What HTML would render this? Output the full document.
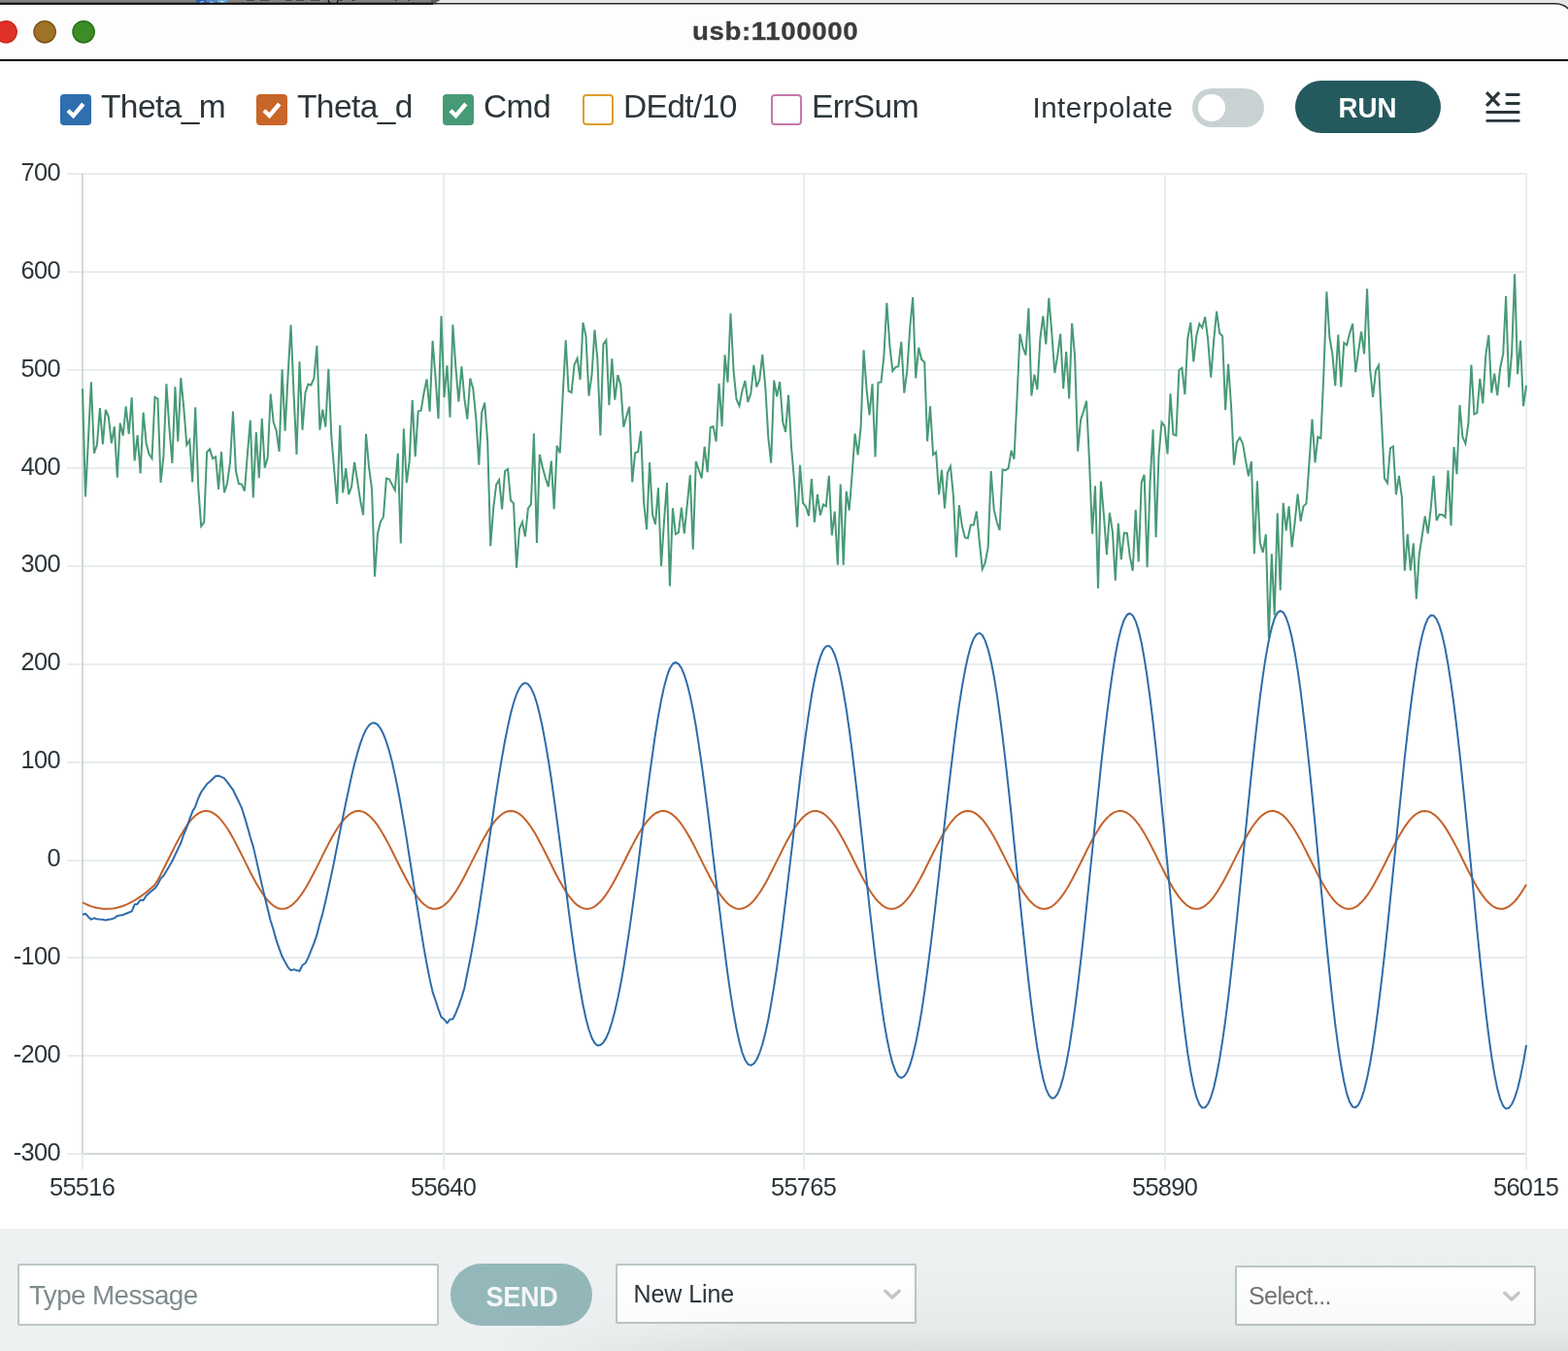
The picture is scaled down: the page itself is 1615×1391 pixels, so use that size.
<!DOCTYPE html>
<html lang="en"><head><meta charset="utf-8"><title>usb:1100000</title>
<style>
*{box-sizing:border-box;margin:0;padding:0}
html,body{width:1615px;height:1391px;overflow:hidden;background:#fff}
body{position:relative;font-family:"Liberation Sans","DejaVu Sans",sans-serif;color:#2c353a}
.abs{position:absolute}
#topstrip{left:0;top:0;width:1615px;height:6px;background:#e4e4e4}
#topdark{left:0;top:0;width:447px;height:5px;background:#818181}
#titlebar{left:0;top:0;width:1615px;height:63px}
#title{left:0;top:14.6px;width:1598px;text-align:center;font-weight:bold;font-size:26px;line-height:34px;color:#3b3b3b}
#title span{display:inline-block;transform:scaleX(1.063);letter-spacing:0.6px;-webkit-text-stroke:0.3px #3b3b3b}
.tl{width:24px;height:24px;border-radius:50%;top:21px;border:1.5px solid}
#blackline{left:0;top:61px;width:1615px;height:2px;background:#000}
.cb{top:97px;width:32px;height:32px;border-radius:4px}
.cb svg{position:absolute;left:0;top:0}
.lbl{top:89.7px;font-size:33.5px;line-height:40px;white-space:nowrap;letter-spacing:-0.6px}
#interp{left:1063.5px;top:90.8px;font-size:29.5px;line-height:40px;white-space:nowrap;letter-spacing:0.5px}
#toggle{left:1228px;top:91px;width:74px;height:40px;border-radius:20px;background:#c9d2d2}
#knob{left:1234px;top:97px;width:28px;height:28px;border-radius:50%;background:#fff}
#run{left:1334px;top:83px;width:150px;height:54px;border-radius:27px;background:#245a5e;color:#fff;font-weight:bold;font-size:29px;line-height:56px;text-align:center}
#run span{display:inline-block;transform:scaleX(0.955);letter-spacing:0.1px}
.yl{position:absolute;left:0;width:62px;text-align:right;font-size:25.4px;line-height:30px;white-space:nowrap;letter-spacing:-0.65px}
.xl{position:absolute;top:1206.6px;width:100px;text-align:center;font-size:25.4px;line-height:30px;white-space:nowrap;letter-spacing:-0.65px}
#bottom{left:0;top:1265px;width:1615px;height:126px;background:#edf1f2}
#shade{left:0;top:1265px;width:1615px;height:126px;pointer-events:none;background:linear-gradient(to bottom,rgba(20,30,30,0) 0%,rgba(20,30,30,0.003) 30%,rgba(20,30,30,0.011) 55%,rgba(20,30,30,0.028) 78%,rgba(20,30,30,0.05) 90%,rgba(20,30,30,0.08) 100%);-webkit-mask-image:linear-gradient(to right,rgba(0,0,0,0) 31%,rgba(0,0,0,1) 48%);mask-image:linear-gradient(to right,rgba(0,0,0,0) 31%,rgba(0,0,0,1) 48%)}
#msg{left:18px;top:1301px;width:434px;height:64px;background:#fff;border:2px solid #bcc6c6;border-radius:2px;font-size:27.8px;line-height:62px;padding-left:10px;color:#7f8c8d;white-space:nowrap;letter-spacing:-0.6px}
#send{left:464px;top:1301px;width:146px;height:64px;border-radius:32px;background:#94b8ba;color:#f3f7f7;font-weight:bold;font-size:29px;line-height:68.3px;text-align:center}
#send span{display:inline-block;transform:scaleX(0.935);letter-spacing:-0.4px}
.sel{width:310px;height:62px;background:#fff;border:2px solid #bcc6c6;border-radius:2px;white-space:nowrap}
#sel1{left:634px;top:1301px;font-size:25px;line-height:58.5px;padding-left:16.6px;color:#2c353a;letter-spacing:-0.1px}
#sel2{left:1272px;top:1303px;font-size:25px;line-height:59px;padding-left:12px;color:#757575;letter-spacing:-0.6px}
.chev{position:absolute}
</style></head><body>
<div class="abs" id="titlebar">
<svg class="abs" style="left:0;top:0" width="1615" height="63" viewBox="0 0 1615 63">
<rect x="0" y="0" width="1615" height="63" fill="#e6e6e6"/>
<rect x="0" y="0" width="445" height="5" fill="#818181"/>
<path d="M444 0 L453.5 0 L446.5 4.5 L444 4.5 Z" fill="#5c5c5c"/>
<rect x="202" y="0" width="10.5" height="4.6" fill="#2c62b2"/>
<rect x="213" y="0" width="10" height="4.6" fill="#4d8ccb"/>
<rect x="224" y="0" width="10" height="4.6" fill="#6fabd9"/>
<path d="M205 3.4 Q207.5 1 210 2 M216 3 Q218 1 220 3 M227 1.5 Q230 1 231 3.4" fill="none" stroke="#eef3fa" stroke-width="1"/>
<path d="M254 0 h8 M268 0 h9 M294 0 h7 M305 0 h8 M320 0 h9 M349 0 h4 M362 0 h4 M407 0 h2 M420 0 h2" stroke="#2a2a2a" stroke-width="1.6" fill="none" opacity="0.8"/>
<path d="M338 0 Q339 4.6 345 4.2 Q348 4 348 0" fill="none" stroke="#111" stroke-width="1.2"/>
<path d="M0 3.8 L1601 3.8 Q1610.5 3.8 1616 9.7 L1616 63 L0 63 Z" fill="#fdfdfd"/>
<path d="M0 3.8 L1601 3.8 Q1610.5 3.8 1616 9.7" fill="none" stroke="#2a2a2a" stroke-width="1.6"/>
<path d="M0 3.7 L446 3.7" fill="none" stroke="#0c0c0c" stroke-width="1.9"/>
</svg>
<svg class="abs" style="left:0;top:18px" width="110" height="30" viewBox="0 18 110 30">
<circle cx="6.1" cy="32.8" r="11.1" fill="#e13126" stroke="#c9281e" stroke-width="1.5"/>
<circle cx="46.1" cy="32.8" r="11.1" fill="#9e7327" stroke="#805318" stroke-width="1.5"/>
<circle cx="86.1" cy="32.8" r="11.1" fill="#3c8c27" stroke="#2b701a" stroke-width="1.5"/>
</svg>
<div class="abs" id="title"><span>usb:1100000</span></div>
<div class="abs" id="blackline"></div>
</div>

<div class="abs cb" style="left:62px;background:#2f6fae"><svg width="32" height="32" viewBox="0 0 32 32"><path d="M8 16.8 L13.5 22.1 L23.8 10" fill="none" stroke="#fff" stroke-width="4.3"/></svg></div>
<div class="abs lbl" style="left:104px">Theta_m</div>
<div class="abs cb" style="left:264px;background:#c86528"><svg width="32" height="32" viewBox="0 0 32 32"><path d="M8 16.8 L13.5 22.1 L23.8 10" fill="none" stroke="#fff" stroke-width="4.3"/></svg></div>
<div class="abs lbl" style="left:306px">Theta_d</div>
<div class="abs cb" style="left:456px;background:#479a76"><svg width="32" height="32" viewBox="0 0 32 32"><path d="M8 16.8 L13.5 22.1 L23.8 10" fill="none" stroke="#fff" stroke-width="4.3"/></svg></div>
<div class="abs lbl" style="left:498px">Cmd</div>
<div class="abs cb" style="left:600px;border:2px solid #dd9e2c;background:#fff"></div>
<div class="abs lbl" style="left:642px">DEdt/10</div>
<div class="abs cb" style="left:794px;border:2px solid #c478ab;background:#fff"></div>
<div class="abs lbl" style="left:836px">ErrSum</div>
<div class="abs" id="interp">Interpolate</div>
<div class="abs" id="toggle"></div><div class="abs" id="knob"></div>
<div class="abs" id="run"><span>RUN</span></div>
<svg class="abs" style="left:1526px;top:90px" width="44" height="40" viewBox="0 0 44 40">
<g fill="none" stroke="#2c353a" stroke-linecap="round">
<path stroke-width="3.2" stroke-linecap="square" d="M6.2 6.3 L17 17.7 M17 6.3 L6.2 17.7"/>
<path stroke-width="2.8" d="M25.8 7.5 H38.3 M25.8 16.5 H38.3 M5.7 25.5 H38.3 M5.7 34.4 H38.3"/>
</g></svg>

<svg class="abs" style="left:0;top:0" width="1615" height="1265" viewBox="0 0 1615 1265">
<rect x="69" y="1187.0" width="16" height="2" fill="#e7eded"/>
<rect x="85" y="1187.0" width="1488" height="2" fill="#d3d9da"/>
<rect x="69" y="1086.0" width="1504" height="2" fill="#e7eded"/>
<rect x="69" y="985.0" width="1504" height="2" fill="#e7eded"/>
<rect x="69" y="885.0" width="1504" height="2" fill="#e7eded"/>
<rect x="69" y="784.0" width="1504" height="2" fill="#e7eded"/>
<rect x="69" y="683.0" width="1504" height="2" fill="#e7eded"/>
<rect x="69" y="582.0" width="1504" height="2" fill="#e7eded"/>
<rect x="69" y="481.0" width="1504" height="2" fill="#e7eded"/>
<rect x="69" y="380.0" width="1504" height="2" fill="#e7eded"/>
<rect x="69" y="279.0" width="1504" height="2" fill="#e7eded"/>
<rect x="69" y="178.0" width="1504" height="2" fill="#e7eded"/>
<rect x="84.0" y="178.0" width="2" height="1010.0" fill="#d3d9da"/>
<rect x="84.0" y="1188.0" width="2" height="16" fill="#e7eded"/>
<rect x="456.0" y="178.0" width="2" height="1026.0" fill="#e7eded"/>
<rect x="827.0" y="178.0" width="2" height="1026.0" fill="#e7eded"/>
<rect x="1199.0" y="178.0" width="2" height="1026.0" fill="#e7eded"/>
<rect x="1571.0" y="178.0" width="2" height="1026.0" fill="#e7eded"/>
<polyline fill="none" stroke="#479a76" stroke-width="2" stroke-linejoin="miter" points="85.0,400.2 88.0,511.5 91.0,451.1 93.9,393.3 96.9,466.7 99.9,458.1 102.9,420.1 105.9,457.5 108.8,421.8 111.8,429.1 114.8,456.3 117.8,439.1 120.8,491.7 123.7,435.6 126.7,448.6 129.7,418.4 132.7,446.8 135.7,409.4 138.6,474.4 141.6,448.2 144.6,487.4 147.6,424.7 150.6,456.3 153.5,467.5 156.5,471.9 159.5,408.9 162.5,410.6 165.5,496.9 168.4,470.1 171.4,395.4 174.4,440.8 177.4,477.0 180.4,398.2 183.3,454.6 186.3,389.0 189.3,420.1 192.3,458.1 195.3,453.2 198.2,496.5 201.2,419.2 204.2,501.2 207.2,541.7 210.2,537.8 213.1,465.5 216.1,462.4 219.1,472.2 222.1,470.5 225.1,503.8 228.0,465.0 231.0,507.2 234.0,497.7 237.0,476.2 240.0,423.5 242.9,484.8 245.9,498.1 248.9,498.6 251.9,505.5 254.9,467.5 257.8,432.7 260.8,512.4 263.8,445.1 266.8,492.2 269.8,430.7 272.7,481.7 275.7,471.4 278.7,405.7 281.7,434.7 284.7,443.7 287.6,464.9 290.6,380.4 293.6,443.7 296.6,386.4 299.6,334.5 302.5,404.5 305.5,467.9 308.5,372.3 311.5,442.7 314.5,404.5 317.4,395.5 320.4,396.5 323.4,389.4 326.4,355.8 329.4,442.7 332.3,421.6 335.3,439.7 338.3,379.8 341.3,448.8 344.3,485.0 347.2,518.8 350.2,437.7 353.2,507.5 356.2,482.0 359.2,509.1 362.1,501.1 365.1,475.9 368.1,495.1 371.1,515.2 374.1,530.3 377.0,446.8 380.0,481.0 383.0,503.1 386.0,593.6 389.0,549.4 391.9,537.3 394.9,532.3 397.9,492.6 400.9,493.4 403.9,499.1 406.8,504.7 409.8,466.9 412.8,559.4 415.8,441.3 418.8,497.1 421.7,474.9 424.7,412.0 427.7,470.3 430.7,423.6 433.7,422.6 436.6,404.5 439.6,390.4 442.6,423.6 445.6,350.8 448.6,389.4 451.5,431.1 454.5,325.4 457.5,409.1 460.5,376.4 463.5,429.7 466.4,334.3 469.4,378.4 472.4,413.6 475.4,377.4 478.4,410.6 481.3,431.7 484.3,389.5 487.3,400.5 490.3,430.7 493.3,478.6 496.2,424.7 499.2,414.6 502.2,454.9 505.2,562.1 508.2,523.3 511.1,499.1 514.1,494.1 517.1,524.3 520.1,485.1 523.1,483.0 526.0,515.2 529.0,518.2 532.0,584.6 535.0,544.4 538.0,537.4 540.9,552.5 543.9,523.3 546.9,519.3 549.9,446.4 552.9,558.9 555.8,467.9 558.8,481.0 561.8,492.1 564.8,501.1 567.8,474.6 570.7,524.3 573.7,458.9 576.7,466.5 579.7,406.6 582.7,350.2 585.6,402.6 588.6,404.2 591.6,375.4 594.6,368.8 597.6,390.9 600.5,332.1 603.5,346.2 606.5,407.6 609.5,386.5 612.5,339.6 615.4,370.4 618.4,448.4 621.4,354.3 624.4,350.2 627.4,417.2 630.3,369.4 633.3,411.6 636.3,386.1 639.3,396.5 642.3,439.8 645.2,428.7 648.2,418.7 651.2,496.4 654.2,466.2 657.2,465.1 660.1,443.8 663.1,517.1 666.1,545.2 669.1,476.1 672.1,530.1 675.0,539.8 678.0,502.4 681.0,582.9 684.0,536.5 687.0,497.1 689.9,603.4 692.9,523.2 695.9,549.9 698.9,548.4 701.9,522.5 704.8,549.5 707.8,519.3 710.8,489.1 713.8,565.7 716.8,475.0 719.7,483.7 722.7,492.3 725.7,459.9 728.7,486.3 731.7,439.9 734.6,439.0 737.6,454.6 740.6,394.8 743.6,439.0 746.6,365.4 749.5,393.7 752.5,322.5 755.5,381.2 758.5,411.0 761.5,417.9 764.4,402.8 767.4,392.0 770.4,414.0 773.4,404.9 776.4,375.8 779.3,398.5 782.3,390.9 785.3,365.0 788.3,398.5 791.3,450.2 794.2,476.6 797.2,391.6 800.2,408.2 803.2,393.1 806.2,434.1 809.1,444.8 812.1,406.7 815.1,461.0 818.1,495.5 821.1,542.6 824.0,478.9 827.0,517.8 830.0,521.4 833.0,531.1 835.9,493.0 838.9,537.6 841.9,508.9 844.9,530.5 847.9,519.5 850.8,521.1 853.8,489.9 856.8,551.3 859.8,526.5 862.8,581.6 865.7,498.5 868.7,581.6 871.7,506.0 874.7,525.5 877.7,487.7 880.6,446.3 883.6,468.3 886.6,440.2 889.6,360.4 892.6,401.4 895.5,427.3 898.5,395.4 901.5,470.4 904.5,393.9 907.5,393.4 910.4,366.9 913.4,311.9 916.4,356.1 919.4,382.0 922.4,378.1 925.3,377.2 928.3,351.8 931.3,404.6 934.3,382.0 937.3,336.7 940.2,306.0 943.2,389.5 946.2,357.8 949.2,370.1 952.2,372.7 955.1,454.3 958.1,418.2 961.1,468.3 964.1,465.5 967.1,509.3 970.0,483.8 973.0,523.3 976.0,486.6 979.0,480.2 982.0,511.4 984.9,573.6 987.9,520.1 990.9,541.6 993.9,553.5 996.9,554.2 999.8,540.6 1002.8,540.6 1005.8,526.5 1008.8,557.8 1011.8,585.9 1014.7,579.4 1017.7,563.2 1020.7,485.1 1023.7,524.4 1026.7,537.3 1029.6,546.0 1032.6,483.7 1035.6,484.3 1038.6,482.1 1041.6,463.9 1044.5,472.6 1047.5,410.5 1050.5,343.7 1053.5,357.5 1056.5,365.6 1059.4,317.3 1062.4,407.5 1065.4,385.6 1068.4,401.3 1071.4,348.3 1074.3,325.3 1077.3,354.5 1080.3,306.9 1083.3,342.6 1086.3,384.0 1089.2,366.7 1092.2,343.7 1095.2,400.1 1098.2,362.1 1101.2,410.5 1104.1,332.9 1107.1,366.7 1110.1,464.6 1113.1,432.3 1116.1,423.1 1119.0,412.8 1122.0,474.9 1125.0,549.7 1128.0,500.2 1131.0,605.6 1133.9,495.6 1136.9,530.1 1139.9,571.1 1142.9,527.8 1145.9,547.4 1148.8,597.6 1151.8,538.9 1154.8,576.2 1157.8,548.6 1160.8,549.0 1163.7,572.7 1166.7,587.7 1169.7,524.9 1172.7,578.5 1175.7,496.8 1178.6,488.7 1181.6,584.2 1184.6,495.6 1187.6,442.2 1190.6,553.2 1193.5,469.2 1196.5,434.6 1199.5,438.6 1202.5,467.5 1205.5,405.2 1208.4,447.3 1211.4,448.4 1214.4,381.0 1217.4,378.9 1220.4,406.2 1223.3,348.4 1226.3,332.1 1229.3,372.5 1232.3,345.9 1235.3,333.3 1238.2,337.5 1241.2,326.3 1244.2,350.1 1247.2,388.6 1250.2,350.1 1253.1,320.7 1256.1,343.1 1259.1,345.9 1262.1,422.2 1265.1,374.8 1268.0,417.4 1271.0,478.6 1274.0,455.3 1277.0,450.5 1280.0,456.7 1282.9,473.5 1285.9,490.4 1288.9,475.0 1291.9,570.3 1294.9,495.4 1297.8,559.1 1300.8,568.9 1303.8,550.1 1306.8,656.7 1309.8,570.3 1312.7,633.4 1315.7,528.2 1318.7,607.6 1321.7,517.9 1324.7,546.5 1327.6,521.2 1330.6,563.3 1333.6,538.1 1336.6,508.6 1339.6,536.7 1342.5,521.2 1345.5,518.4 1348.5,476.4 1351.5,431.5 1354.5,476.4 1357.4,449.7 1360.4,451.1 1363.4,383.8 1366.4,300.2 1369.4,347.3 1372.3,364.2 1375.3,397.3 1378.3,344.5 1381.3,398.4 1384.3,352.9 1387.2,355.2 1390.2,343.1 1393.2,333.3 1396.2,383.2 1399.2,361.3 1402.1,341.4 1405.1,364.4 1408.1,297.3 1411.1,380.5 1414.1,408.8 1417.0,381.8 1420.0,376.1 1423.0,433.0 1426.0,492.5 1429.0,497.2 1431.9,461.5 1434.9,459.7 1437.9,509.3 1440.9,489.9 1443.9,511.9 1446.8,587.7 1449.8,549.9 1452.8,587.5 1455.8,559.3 1458.8,616.7 1461.7,571.4 1464.7,552.0 1467.7,531.3 1470.7,549.4 1473.7,523.6 1476.6,489.9 1479.6,536.0 1482.6,529.5 1485.6,530.0 1488.6,532.6 1491.5,484.2 1494.5,541.2 1497.5,460.2 1500.5,488.1 1503.5,417.0 1506.4,449.8 1509.4,456.8 1512.4,435.6 1515.4,375.6 1518.4,426.5 1521.3,425.2 1524.3,389.8 1527.3,415.4 1530.3,365.7 1533.3,345.0 1536.2,404.5 1539.2,384.6 1542.2,407.1 1545.2,378.7 1548.2,364.4 1551.1,304.9 1554.1,398.6 1557.1,363.1 1560.1,282.4 1563.1,385.1 1566.0,350.7 1569.0,418.3 1572.0,396.8"/>
<polyline fill="none" stroke="#c4622a" stroke-width="2" stroke-linejoin="round" points="85.0,929.2 88.0,930.7 91.0,932.0 93.9,933.1 96.9,934.0 99.9,934.8 102.9,935.3 105.9,935.7 108.8,935.8 111.8,935.8 114.8,935.6 117.8,935.2 120.8,934.5 123.7,933.7 126.7,932.7 129.7,931.6 132.7,930.2 135.7,928.7 138.6,927.0 141.6,925.1 144.6,923.1 147.6,921.0 150.6,918.7 153.5,916.2 156.5,913.7 159.5,911.1 162.5,906.2 165.5,900.5 168.4,894.7 171.4,888.7 174.4,882.7 177.4,876.7 180.4,870.9 183.3,865.2 186.3,859.9 189.3,854.9 192.3,850.3 195.3,846.2 198.2,842.7 201.2,839.8 204.2,837.6 207.2,836.0 210.2,835.1 213.1,835.0 216.1,835.5 219.1,836.8 222.1,838.8 225.1,841.4 228.0,844.6 231.0,848.5 234.0,852.8 237.0,857.6 240.0,862.9 242.9,868.4 245.9,874.2 248.9,880.1 251.9,886.1 254.9,892.1 257.8,898.0 260.8,903.7 263.8,909.2 266.8,914.3 269.8,919.0 272.7,923.3 275.7,927.0 278.7,930.1 281.7,932.6 284.7,934.4 287.6,935.5 290.6,935.8 293.6,935.5 296.6,934.5 299.6,932.7 302.5,930.3 305.5,927.3 308.5,923.6 311.5,919.4 314.5,914.8 317.4,909.7 320.4,904.2 323.4,898.5 326.4,892.6 329.4,886.6 332.3,880.6 335.3,874.7 338.3,868.9 341.3,863.3 344.3,858.1 347.2,853.2 350.2,848.8 353.2,845.0 356.2,841.7 359.2,839.0 362.1,837.0 365.1,835.6 368.1,835.0 371.1,835.1 374.1,835.9 377.0,837.4 380.0,839.6 383.0,842.5 386.0,845.9 389.0,849.9 391.9,854.5 394.9,859.4 397.9,864.8 400.9,870.4 403.9,876.2 406.8,882.2 409.8,888.2 412.8,894.2 415.8,900.0 418.8,905.7 421.7,911.0 424.7,916.0 427.7,920.6 430.7,924.6 433.7,928.1 436.6,931.0 439.6,933.3 442.6,934.8 445.6,935.7 448.6,935.8 451.5,935.2 454.5,934.0 457.5,932.0 460.5,929.3 463.5,926.1 466.4,922.2 469.4,917.9 472.4,913.0 475.4,907.8 478.4,902.3 481.3,896.5 484.3,890.6 487.3,884.6 490.3,878.6 493.3,872.7 496.2,866.9 499.2,861.5 502.2,856.4 505.2,851.7 508.2,847.4 511.1,843.7 514.1,840.7 517.1,838.2 520.1,836.4 523.1,835.3 526.0,835.0 529.0,835.3 532.0,836.3 535.0,838.1 538.0,840.5 540.9,843.6 543.9,847.3 546.9,851.5 549.9,856.1 552.9,861.2 555.8,866.7 558.8,872.4 561.8,878.3 564.8,884.3 567.8,890.3 570.7,896.2 573.7,902.0 576.7,907.6 579.7,912.8 582.7,917.7 585.6,922.1 588.6,925.9 591.6,929.2 594.6,931.9 597.6,933.9 600.5,935.2 603.5,935.8 606.5,935.7 609.5,934.9 612.5,933.3 615.4,931.1 618.4,928.3 621.4,924.8 624.4,920.8 627.4,916.2 630.3,911.3 633.3,905.9 636.3,900.3 639.3,894.4 642.3,888.5 645.2,882.5 648.2,876.5 651.2,870.6 654.2,865.0 657.2,859.6 660.1,854.7 663.1,850.1 666.1,846.1 669.1,842.6 672.1,839.7 675.0,837.5 678.0,836.0 681.0,835.1 684.0,835.0 687.0,835.6 689.9,836.9 692.9,838.9 695.9,841.5 698.9,844.8 701.9,848.7 704.8,853.0 707.8,857.9 710.8,863.1 713.8,868.6 716.8,874.4 719.7,880.4 722.7,886.4 725.7,892.4 728.7,898.3 731.7,904.0 734.6,909.4 737.6,914.6 740.6,919.2 743.6,923.5 746.6,927.1 749.5,930.2 752.5,932.7 755.5,934.4 758.5,935.5 761.5,935.8 764.4,935.5 767.4,934.4 770.4,932.7 773.4,930.2 776.4,927.1 779.3,923.5 782.3,919.2 785.3,914.6 788.3,909.4 791.3,904.0 794.2,898.3 797.2,892.4 800.2,886.4 803.2,880.4 806.2,874.4 809.1,868.6 812.1,863.1 815.1,857.9 818.1,853.0 821.1,848.7 824.0,844.8 827.0,841.5 830.0,838.9 833.0,836.9 835.9,835.6 838.9,835.0 841.9,835.1 844.9,836.0 847.9,837.5 850.8,839.7 853.8,842.6 856.8,846.1 859.8,850.1 862.8,854.7 865.7,859.7 868.7,865.0 871.7,870.6 874.7,876.5 877.7,882.5 880.6,888.5 883.6,894.5 886.6,900.3 889.6,905.9 892.6,911.3 895.5,916.2 898.5,920.8 901.5,924.8 904.5,928.3 907.5,931.1 910.4,933.3 913.4,934.9 916.4,935.7 919.4,935.8 922.4,935.2 925.3,933.9 928.3,931.9 931.3,929.2 934.3,925.9 937.3,922.1 940.2,917.7 943.2,912.8 946.2,907.6 949.2,902.0 952.2,896.2 955.1,890.3 958.1,884.3 961.1,878.3 964.1,872.4 967.1,866.7 970.0,861.2 973.0,856.1 976.0,851.5 979.0,847.2 982.0,843.6 984.9,840.5 987.9,838.1 990.9,836.3 993.9,835.3 996.9,835.0 999.8,835.3 1002.8,836.4 1005.8,838.2 1008.8,840.7 1011.8,843.7 1014.7,847.4 1017.7,851.7 1020.7,856.4 1023.7,861.5 1026.7,866.9 1029.6,872.7 1032.6,878.6 1035.6,884.6 1038.6,890.6 1041.6,896.5 1044.5,902.3 1047.5,907.8 1050.5,913.0 1053.5,917.9 1056.5,922.2 1059.4,926.1 1062.4,929.3 1065.4,932.0 1068.4,934.0 1071.4,935.2 1074.3,935.8 1077.3,935.7 1080.3,934.8 1083.3,933.3 1086.3,931.0 1089.2,928.1 1092.2,924.6 1095.2,920.6 1098.2,916.0 1101.2,911.0 1104.1,905.7 1107.1,900.0 1110.1,894.2 1113.1,888.2 1116.1,882.2 1119.0,876.2 1122.0,870.4 1125.0,864.7 1128.0,859.4 1131.0,854.5 1133.9,849.9 1136.9,845.9 1139.9,842.5 1142.9,839.6 1145.9,837.4 1148.8,835.9 1151.8,835.1 1154.8,835.0 1157.8,835.6 1160.8,837.0 1163.7,839.0 1166.7,841.7 1169.7,845.0 1172.7,848.8 1175.7,853.2 1178.6,858.1 1181.6,863.3 1184.6,868.9 1187.6,874.7 1190.6,880.6 1193.5,886.7 1196.5,892.6 1199.5,898.5 1202.5,904.2 1205.5,909.7 1208.4,914.8 1211.4,919.4 1214.4,923.6 1217.4,927.3 1220.4,930.3 1223.3,932.7 1226.3,934.5 1229.3,935.5 1232.3,935.8 1235.3,935.5 1238.2,934.4 1241.2,932.6 1244.2,930.1 1247.2,927.0 1250.2,923.3 1253.1,919.0 1256.1,914.3 1259.1,909.2 1262.1,903.7 1265.1,898.0 1268.0,892.1 1271.0,886.1 1274.0,880.1 1277.0,874.2 1280.0,868.4 1282.9,862.9 1285.9,857.6 1288.9,852.8 1291.9,848.5 1294.9,844.6 1297.8,841.4 1300.8,838.8 1303.8,836.8 1306.8,835.5 1309.8,835.0 1312.7,835.1 1315.7,836.0 1318.7,837.6 1321.7,839.8 1324.7,842.7 1327.6,846.3 1330.6,850.3 1333.6,854.9 1336.6,859.9 1339.6,865.2 1342.5,870.9 1345.5,876.8 1348.5,882.7 1351.5,888.7 1354.5,894.7 1357.4,900.6 1360.4,906.2 1363.4,911.5 1366.4,916.5 1369.4,921.0 1372.3,925.0 1375.3,928.4 1378.3,931.2 1381.3,933.4 1384.3,934.9 1387.2,935.7 1390.2,935.8 1393.2,935.2 1396.2,933.8 1399.2,931.8 1402.1,929.1 1405.1,925.8 1408.1,921.9 1411.1,917.5 1414.1,912.6 1417.0,907.3 1420.0,901.8 1423.0,896.0 1426.0,890.0 1429.0,884.0 1431.9,878.0 1434.9,872.1 1437.9,866.4 1440.9,861.0 1443.9,855.9 1446.8,851.3 1449.8,847.1 1452.8,843.4 1455.8,840.4 1458.8,838.0 1461.7,836.3 1464.7,835.3 1467.7,835.0 1470.7,835.4 1473.7,836.5 1476.6,838.3 1479.6,840.8 1482.6,843.9 1485.6,847.6 1488.6,851.9 1491.5,856.6 1494.5,861.7 1497.5,867.2 1500.5,872.9 1503.5,878.8 1506.4,884.8 1509.4,890.8 1512.4,896.8 1515.4,902.5 1518.4,908.1 1521.3,913.3 1524.3,918.1 1527.3,922.4 1530.3,926.2 1533.3,929.5 1536.2,932.1 1539.2,934.0 1542.2,935.3 1545.2,935.8 1548.2,935.7 1551.1,934.8 1554.1,933.2 1557.1,930.9 1560.1,928.0 1563.1,924.5 1566.0,920.4 1569.0,915.8 1572.0,910.8"/>
<polyline fill="none" stroke="#2d6cab" stroke-width="2" stroke-linejoin="round" points="85.0,941.7 88.0,940.8 91.0,944.0 93.9,946.7 96.9,945.3 99.9,946.2 102.9,946.6 105.9,946.8 108.8,947.5 111.8,946.8 114.8,946.2 117.8,945.4 120.8,943.0 123.7,942.4 126.7,942.0 129.7,940.7 132.7,939.5 135.7,938.4 138.6,931.3 141.6,930.7 144.6,926.5 147.6,927.0 150.6,922.3 153.5,919.5 156.5,917.0 159.5,914.6 162.5,910.5 165.5,904.6 168.4,901.8 171.4,896.8 174.4,891.7 177.4,886.6 180.4,880.3 183.3,874.1 186.3,868.0 189.3,859.0 192.3,852.0 195.3,843.3 198.2,835.6 201.2,830.4 204.2,822.0 207.2,815.5 210.2,811.3 213.1,807.3 216.1,804.7 219.1,801.9 222.1,799.0 225.1,798.8 228.0,799.9 231.0,801.3 234.0,805.1 237.0,809.2 240.0,813.3 242.9,819.2 245.9,825.3 248.9,831.8 251.9,841.1 254.9,851.4 257.8,862.0 260.8,871.6 263.8,884.6 266.8,898.0 269.8,911.1 272.7,923.4 275.7,935.7 278.7,948.0 281.7,957.5 284.7,968.4 287.6,976.6 290.6,984.8 293.6,990.4 296.6,995.8 299.6,999.1 302.5,998.1 305.5,999.0 308.5,999.7 311.5,993.8 314.5,991.7 317.4,986.1 320.4,978.7 323.4,971.1 326.4,962.4 329.4,950.5 332.3,940.6 335.3,927.7 338.3,914.5 341.3,900.6 344.3,886.2 347.2,871.4 350.2,856.4 353.2,841.5 356.2,826.8 359.2,812.6 362.1,799.1 365.1,786.6 368.1,775.4 371.1,765.6 374.1,757.5 377.0,751.2 380.0,746.8 383.0,744.5 386.0,744.3 389.0,746.1 391.9,750.0 394.9,755.8 397.9,763.6 400.9,773.3 403.9,784.7 406.8,797.9 409.8,812.5 412.8,828.5 415.8,845.6 418.8,863.6 421.7,882.4 424.7,901.6 427.7,920.8 430.7,939.9 433.7,958.5 436.6,976.2 439.6,992.8 442.6,1007.9 445.6,1021.4 448.6,1030.0 451.5,1039.2 454.5,1047.1 457.5,1049.5 460.5,1053.4 463.5,1049.6 466.4,1049.2 469.4,1043.2 472.4,1035.6 475.4,1027.1 478.4,1017.0 481.3,1002.3 484.3,987.7 487.3,971.6 490.3,954.3 493.3,935.9 496.2,916.6 499.2,896.8 502.2,876.5 505.2,856.1 508.2,836.0 511.1,816.2 514.1,797.3 517.1,779.4 520.1,762.8 523.1,747.9 526.0,734.7 529.0,723.7 532.0,714.8 535.0,708.4 538.0,704.5 540.9,703.1 543.9,704.4 546.9,708.3 549.9,714.8 552.9,723.8 555.8,735.3 558.8,749.0 561.8,764.9 564.8,782.6 567.8,802.0 570.7,822.7 573.7,844.6 576.7,867.3 579.7,890.5 582.7,913.7 585.6,936.7 588.6,959.1 591.6,980.4 594.6,1000.4 597.6,1018.6 600.5,1034.8 603.5,1048.7 606.5,1060.0 609.5,1068.5 612.5,1074.0 615.4,1076.5 618.4,1076.0 621.4,1073.4 624.4,1068.6 627.4,1061.6 630.3,1052.5 633.3,1041.3 636.3,1028.1 639.3,1013.1 642.3,996.2 645.2,977.7 648.2,957.7 651.2,936.4 654.2,914.1 657.2,891.1 660.1,867.6 663.1,844.0 666.1,820.6 669.1,797.8 672.1,776.1 675.0,755.8 678.0,737.4 681.0,721.0 684.0,707.2 687.0,696.2 689.9,688.2 692.9,683.5 695.9,682.0 698.9,683.6 701.9,687.9 704.8,694.8 707.8,704.5 710.8,716.6 713.8,731.1 716.8,747.8 719.7,766.6 722.7,787.2 725.7,809.3 728.7,832.7 731.7,857.1 734.6,882.0 737.6,907.3 740.6,932.4 743.6,957.0 746.6,980.7 749.5,1003.1 752.5,1023.8 755.5,1042.6 758.5,1059.0 761.5,1072.7 764.4,1083.5 767.4,1091.2 770.4,1095.7 773.4,1096.9 776.4,1095.2 779.3,1091.0 782.3,1084.3 785.3,1075.2 788.3,1063.6 791.3,1049.8 794.2,1033.9 797.2,1015.9 800.2,996.1 803.2,974.6 806.2,951.8 809.1,927.8 812.1,902.9 815.1,877.5 818.1,852.0 821.1,826.6 824.0,801.8 827.0,778.0 830.0,755.6 833.0,734.9 835.9,716.3 838.9,700.2 841.9,686.8 844.9,676.4 847.9,669.2 850.8,665.4 853.8,664.9 856.8,667.9 859.8,674.2 862.8,683.8 865.7,696.5 868.7,712.1 871.7,730.4 874.7,751.0 877.7,773.8 880.6,798.3 883.6,824.2 886.6,851.1 889.6,878.5 892.6,906.1 895.5,933.4 898.5,960.0 901.5,985.5 904.5,1009.4 907.5,1031.6 910.4,1051.4 913.4,1068.8 916.4,1083.4 919.4,1094.9 922.4,1103.2 925.3,1108.2 928.3,1109.8 931.3,1108.2 934.3,1103.8 937.3,1096.5 940.2,1086.6 943.2,1073.9 946.2,1058.8 949.2,1041.3 952.2,1021.7 955.1,1000.2 958.1,977.1 961.1,952.5 964.1,926.9 967.1,900.6 970.0,873.9 973.0,847.1 976.0,820.8 979.0,795.1 982.0,770.5 984.9,747.4 987.9,726.2 990.9,707.1 993.9,690.4 996.9,676.5 999.8,665.5 1002.8,657.7 1005.8,653.1 1008.8,651.8 1011.8,654.0 1014.7,659.6 1017.7,668.6 1020.7,680.8 1023.7,696.1 1026.7,714.3 1029.6,735.1 1032.6,758.3 1035.6,783.5 1038.6,810.4 1041.6,838.6 1044.5,867.7 1047.5,897.2 1050.5,926.8 1053.5,955.9 1056.5,984.0 1059.4,1010.9 1062.4,1035.9 1065.4,1058.7 1068.4,1079.0 1071.4,1096.2 1074.3,1110.3 1077.3,1120.8 1080.3,1127.7 1083.3,1130.8 1086.3,1130.2 1089.2,1126.3 1092.2,1119.1 1095.2,1108.7 1098.2,1095.3 1101.2,1079.1 1104.1,1060.1 1107.1,1038.7 1110.1,1015.1 1113.1,989.7 1116.1,962.7 1119.0,934.5 1122.0,905.5 1125.0,876.0 1128.0,846.6 1131.0,817.5 1133.9,789.3 1136.9,762.3 1139.9,737.0 1142.9,713.6 1145.9,692.6 1148.8,674.3 1151.8,659.0 1154.8,646.9 1157.8,638.2 1160.8,633.0 1163.7,631.5 1166.7,633.7 1169.7,639.5 1172.7,648.9 1175.7,661.7 1178.6,677.9 1181.6,697.1 1184.6,719.2 1187.6,743.7 1190.6,770.5 1193.5,799.0 1196.5,828.9 1199.5,859.8 1202.5,891.1 1205.5,922.5 1208.4,953.4 1211.4,983.3 1214.4,1011.9 1217.4,1038.5 1220.4,1062.8 1223.3,1084.4 1226.3,1102.9 1229.3,1118.0 1232.3,1129.4 1235.3,1137.0 1238.2,1140.6 1241.2,1140.3 1244.2,1136.6 1247.2,1129.8 1250.2,1119.7 1253.1,1106.7 1256.1,1090.7 1259.1,1071.9 1262.1,1050.7 1265.1,1027.2 1268.0,1001.7 1271.0,974.5 1274.0,945.9 1277.0,916.4 1280.0,886.4 1282.9,856.1 1285.9,826.2 1288.9,796.9 1291.9,768.8 1294.9,742.2 1297.8,717.6 1300.8,695.4 1303.8,675.9 1306.8,659.5 1309.8,646.4 1312.7,636.8 1315.7,630.9 1318.7,628.9 1321.7,630.6 1324.7,635.8 1327.6,644.5 1330.6,656.5 1333.6,671.8 1336.6,690.2 1339.6,711.3 1342.5,735.1 1345.5,761.1 1348.5,789.0 1351.5,818.4 1354.5,848.9 1357.4,880.1 1360.4,911.6 1363.4,942.7 1366.4,973.1 1369.4,1002.3 1372.3,1029.7 1375.3,1055.0 1378.3,1077.6 1381.3,1097.3 1384.3,1113.5 1387.2,1126.1 1390.2,1134.9 1393.2,1139.6 1396.2,1140.2 1399.2,1137.4 1402.1,1131.4 1405.1,1122.3 1408.1,1110.1 1411.1,1095.0 1414.1,1077.1 1417.0,1056.8 1420.0,1034.1 1423.0,1009.4 1426.0,983.0 1429.0,955.2 1431.9,926.3 1434.9,896.8 1437.9,867.0 1440.9,837.3 1443.9,808.3 1446.8,780.2 1449.8,753.5 1452.8,728.7 1455.8,706.1 1458.8,686.0 1461.7,668.8 1464.7,654.7 1467.7,644.0 1470.7,636.9 1473.7,633.5 1476.6,633.8 1479.6,637.4 1482.6,644.4 1485.6,654.6 1488.6,668.0 1491.5,684.5 1494.5,703.7 1497.5,725.6 1500.5,749.8 1503.5,776.2 1506.4,804.3 1509.4,833.7 1512.4,864.2 1515.4,895.2 1518.4,926.3 1521.3,957.0 1524.3,986.8 1527.3,1015.2 1530.3,1041.8 1533.3,1066.1 1536.2,1087.6 1539.2,1105.9 1542.2,1120.7 1545.2,1131.7 1548.2,1138.7 1551.1,1141.6 1554.1,1140.8 1557.1,1137.0 1560.1,1130.4 1563.1,1121.0 1566.0,1108.8 1569.0,1093.9 1572.0,1076.2"/>
</svg>
<div class="yl" style="top:161.8px">700</div><div class="yl" style="top:262.7px">600</div><div class="yl" style="top:363.6px">500</div><div class="yl" style="top:464.5px">400</div><div class="yl" style="top:565.4px">300</div><div class="yl" style="top:666.3px">200</div><div class="yl" style="top:767.2px">100</div><div class="yl" style="top:868.1px">0</div><div class="yl" style="top:969.0px">-100</div><div class="yl" style="top:1069.9px">-200</div><div class="yl" style="top:1170.8px">-300</div>
<div class="xl" style="left:34.6px">55516</div><div class="xl" style="left:406.6px">55640</div><div class="xl" style="left:777.6px">55765</div><div class="xl" style="left:1149.6px">55890</div><div class="xl" style="left:1521.6px">56015</div>

<div class="abs" id="bottom"></div>
<div class="abs" id="msg">Type Message</div>
<div class="abs" id="send"><span>SEND</span></div>
<div class="abs sel" id="sel1">New Line<svg class="chev" style="left:-2px;top:-2px" width="310" height="62" viewBox="0 0 310 62"><path d="M277.8 28.3 L285 35 L292.2 28.3" fill="none" stroke="#c7c8c8" stroke-width="3.4" stroke-linecap="round" stroke-linejoin="round"/></svg></div>
<div class="abs sel" id="sel2">Select...<svg class="chev" style="left:-2px;top:-2px" width="310" height="62" viewBox="0 0 310 62"><path d="M277.8 28.3 L285 35 L292.2 28.3" fill="none" stroke="#c7c8c8" stroke-width="3.4" stroke-linecap="round" stroke-linejoin="round"/></svg></div>
<div class="abs" id="shade"></div>
</body></html>
